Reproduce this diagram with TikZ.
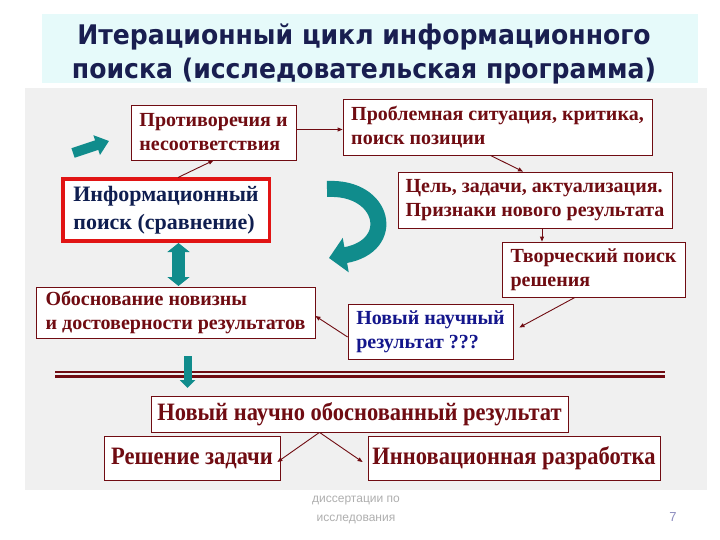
\documentclass[tikz,border=0pt]{standalone}
\usepackage{fontspec}
\setmainfont{Liberation Serif}
\newfontfamily\titlefont{DejaVu Sans}[FakeStretch=0.93]
\newfontfamily\footfont{Liberation Sans}
\newfontfamily\condfont{Liberation Serif}[FakeStretch=0.9]
\usetikzlibrary{arrows.meta,calc}
\definecolor{mar}{RGB}{112,12,18}
\definecolor{navy}{RGB}{15,30,80}
\definecolor{nblue}{RGB}{20,22,140}
\definecolor{ttl}{RGB}{25,30,80}
\definecolor{tealc}{RGB}{16,140,140}
\definecolor{redb}{RGB}{225,20,20}
\definecolor{panel}{RGB}{240,240,240}
\definecolor{band}{RGB}{230,250,250}
\definecolor{footc}{RGB}{175,175,175}
\tikzset{
  bx/.style={draw=mar, line width=0.8pt, fill=white, inner xsep=2pt, inner ysep=2pt,
    align=left, text=mar, font=\bfseries\fontsize{20}{24}\selectfont},
  bxc/.style={draw=mar, line width=0.8pt, fill=white, inner xsep=4pt, inner ysep=2pt,
    align=center, text=mar, font=\condfont\bfseries\fontsize{25}{28}\selectfont},
  con/.style={draw=mar, line width=0.9pt, -{Triangle[length=5pt,width=4pt]}}
}
\begin{document}
\begin{tikzpicture}[x=1pt,y=-1pt]
\useasboundingbox (0,0) rectangle (720,540);
\fill[white] (0,0) rectangle (720,540);
% title band
\fill[band] (42,14) rectangle (698,83);
\node[text=ttl, font=\titlefont\bfseries\fontsize{27}{34}\selectfont, align=center] (title) at (364,54)
  {Итерационный цикл информационного\\поиска (исследовательская программа)};
% panel
\fill[panel] (25,88) rectangle (707,490);
% boxes
\node[bx, minimum width=165pt, minimum height=55pt] (b1) at (213.5,132.5) {Противоречия и\\несоответствия};
\node[bx, minimum width=309pt, minimum height=56pt] (b2) at (497.5,127) {Проблемная ситуация, критика,\\поиск позиции};
\node[bx, draw=redb, line width=3pt, text=navy,
  font=\bfseries\fontsize{22}{28}\selectfont, minimum width=207pt, minimum height=62pt] (b3) at (166,210)
  {Информационный\\поиск (сравнение)};
\draw[redb, line width=0.8pt] ([shift={(3pt,-3pt)}]b3.north west) rectangle ([shift={(-3pt,3pt)}]b3.south east);
\node[bx, minimum width=274pt, minimum height=56pt] (b4) at (535,200) {Цель, задачи, актуализация.\\Признаки нового результата};
\node[bx, minimum width=183pt, minimum height=55pt] (b5) at (593.5,269.5) {Творческий поиск\\решения};
\node[bx, minimum width=279pt, minimum height=51pt] (b6) at (175.5,312.5) {Обоснование новизны\\и достоверности результатов};
\node[bx, text=nblue, minimum width=165pt, minimum height=55pt] (b7) at (430.5,331.5) {Новый научный\\результат ???};
\node[bxc, minimum width=417pt, minimum height=36pt] (b8) at (359.5,414) {Новый научно обоснованный результат};
\node[bxc, minimum width=176pt, minimum height=44pt] (b9) at (192,458) {Решение задачи};
\node[bxc, minimum width=292pt, minimum height=44pt] (b10) at (514,458) {Инновационная разработка};
% connectors
\draw[con] ([yshift=3pt]b1.east) -- ([yshift=3pt]b1.east -| b2.west);
\draw[con] ([xshift=12pt]b3.north) -- (b1.south);
\draw[con] ([xshift=-7pt]b2.south) -- ([xshift=-12pt]b4.north);
\draw[con] ([xshift=7pt]b4.south) -- ([xshift=7pt]b4.south |- b5.north);
\draw[con] ([xshift=-18.5pt]b5.south) -- ([xshift=6pt,yshift=4pt]b7.east);
\draw[con] ([yshift=-5.5pt]b7.west) -- ([yshift=-3.5pt]b6.east);
\coordinate (apex) at ([xshift=-40pt]b8.south);
\draw[con] (apex) -- ([xshift=-3pt,yshift=-4pt]b9.east);
\draw[con] (apex) -- ([xshift=-5pt,yshift=-4pt]b10.west);
% separator double line
\draw[mar, line width=1.4pt] (55,372) -- (665,372);
\draw[mar, line width=3pt] (55,376.5) -- (665,376.5);
% teal arrows
\coordinate (ta1) at (73,153);
\coordinate (ta2) at (109,141);
\draw[tealc, line width=10pt, -{Triangle[length=13pt,width=20pt]}] (ta1) -- (ta2);
\coordinate (c0) at (327,189);
\coordinate (c1) at (329,258);
\draw[tealc, line width=16pt, -{Triangle[length=17pt,width=34pt]}] (c0) .. controls (385,186) and (398,246) .. (c1);
\coordinate (d1) at (178.5,243);
\coordinate (d2) at (178.5,286);
\draw[tealc, line width=13pt, {Triangle[length=9pt,width=22pt]}-{Triangle[length=9pt,width=22pt]}] (d1) -- (d2);
\coordinate (e1) at (187.5,356);
\coordinate (e2) at (187.5,388);
\draw[tealc, line width=8pt, -{Triangle[length=8pt,width=15pt]}] (e1) -- (e2);
% footer
\node[text=footc, font=\footfont\fontsize{12}{19}\selectfont, align=center] (foot) at (356,510) {диссертации по\\исследования};
\node[text=footc!80!blue, font=\footfont\fontsize{13}{15}\selectfont] (pg) at (673,517) {7};
\end{tikzpicture}
\end{document}
